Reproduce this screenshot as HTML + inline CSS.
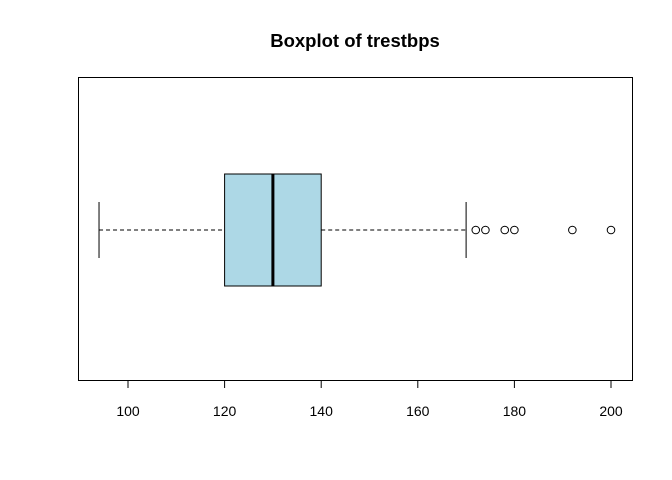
<!DOCTYPE html>
<html><head><meta charset="utf-8"><style>
body{margin:0;background:#fff;}
svg{display:block;font-family:"Liberation Sans",sans-serif;}
</style></head><body>
<svg id="chart" width="672" height="480" viewBox="0 0 672 480" xmlns="http://www.w3.org/2000/svg">
<text x="355" y="47" text-anchor="middle" font-size="18.5" font-weight="bold">Boxplot of trestbps</text>
<rect x="78.5" y="77.5" width="554" height="303" fill="none" stroke="#000"/>
<g id="axis"></g>
<g id="marks"></g>
</svg>
<script>
const ticks=[100,120,140,160,180,200];
const stats=[94,120,130,140,170]; // min, q1, median, q3, max
const outliers=[172,174,178,180,192,200];
const xScale=v=>128+(v-100)*(611-128)/100;
const cy=230, half=56, capHalf=28;
const ns="http://www.w3.org/2000/svg";
function mk(tag,attrs,parent){const e=document.createElementNS(ns,tag);for(const k in attrs)e.setAttribute(k,attrs[k]);parent.appendChild(e);return e;}
const ax=document.getElementById('axis'), mg=document.getElementById('marks');
const al=mk('line',{x1:xScale(ticks[0]),x2:xScale(ticks[ticks.length-1]),y1:380.5,y2:380.5,stroke:'#000'},ax);


ticks.forEach(t=>{
 const l=mk('line',{x1:xScale(t),x2:xScale(t),y1:380,y2:388,stroke:'#000'},ax);
 
 
 const tx=mk('text',{x:xScale(t),y:416,'text-anchor':'middle','font-size':'14'},ax);
 tx.textContent=t;
 
 
});
const [mn,q1,md,q3,mx]=stats;
const w1=mk('line',{x1:xScale(mn),x2:xScale(q1),y1:cy,y2:cy,stroke:'#000','stroke-dasharray':'4,3'},mg);


const w2=mk('line',{x1:xScale(q3),x2:xScale(mx),y1:cy,y2:cy,stroke:'#000','stroke-dasharray':'4,3'},mg);


const c1=mk('line',{x1:xScale(mn),x2:xScale(mn),y1:cy-capHalf,y2:cy+capHalf,stroke:'#000'},mg);


const c2=mk('line',{x1:xScale(mx),x2:xScale(mx),y1:cy-capHalf,y2:cy+capHalf,stroke:'#000'},mg);


const bx=mk('rect',{x:xScale(q1),y:cy-half,width:xScale(q3)-xScale(q1),height:2*half,fill:'#add8e6',stroke:'#000'},mg);


const ml=mk('line',{x1:xScale(md),x2:xScale(md),y1:cy-half,y2:cy+half,stroke:'#000','stroke-width':3},mg);


outliers.forEach(o=>{
 const c=mk('circle',{cx:xScale(o),cy:cy,r:3.8,fill:'none',stroke:'#000'},mg);
 
 
});
</script>
</body></html>
